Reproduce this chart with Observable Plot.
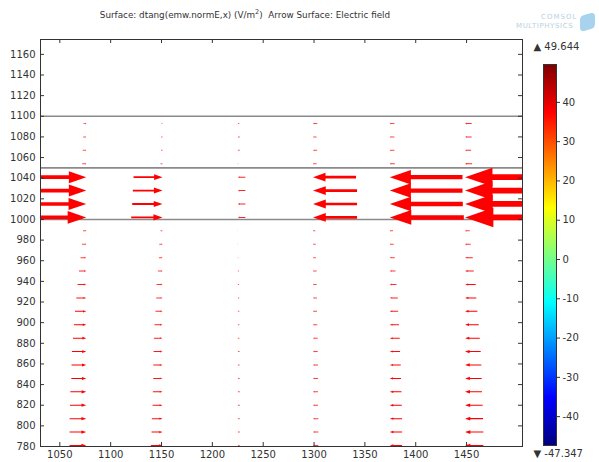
<!DOCTYPE html>
<html><head><meta charset="utf-8">
<script src="https://cdn.jsdelivr.net/npm/d3@7"></script>
<script src="https://cdn.jsdelivr.net/npm/@observablehq/plot@0.6"></script>
<style>
body{margin:0;background:#fff;}
#wrap{position:relative;width:599px;height:462px;font-family:"DejaVu Sans",sans-serif;color:#333;overflow:hidden;background:#fff}
#wrap svg{position:absolute;top:0}
#title{position:absolute;left:0;width:490px;top:10px;text-align:center;font-size:8.8px;white-space:nowrap}
#title sup{font-size:6.5px;vertical-align:4px;line-height:0}
#logo1{position:absolute;left:541px;top:13px;font-size:7px;letter-spacing:1px;color:#b9d0de}
#logo2{position:absolute;left:516px;top:22px;font-size:7px;letter-spacing:0.6px;color:#b9d0de}
#icon{position:absolute;left:580px;top:14px;width:15px;height:16px;background:#a7d3ef;border-radius:4px;transform:skewY(-15deg)}
</style></head><body>
<div id="wrap">
<div id="title">Surface: dtang(emw.normE,x) (V/m<sup>2</sup>)&nbsp; Arrow Surface: Electric field</div>
<div id="logo1">COMSOL</div>
<div id="logo2">MULTIPHYSICS</div>
<div id="icon"></div>
</div>
<script>
// ---- data ----
const columns = [1076, 1151, 1225, 1299, 1374.5, 1448.5];
const rows = [781, 794, 807, 820, 833, 846, 859, 872, 885, 898, 911, 924, 937, 950, 963, 976, 989,
              1002, 1015, 1028, 1041, 1054, 1067, 1080, 1093];
// horizontal electric-field arrow lengths (x units, signed) per column, rows bottom→top
const u1075 = [16.4,16.4,16.4,16.0,15.7,14.7,14.5,14.1,13.1,12.1,11.1,9.8,8.6,7.2,5.6,4.2,3.2, 63,60,59,59, 4,3.5,3,2.7];
const u1150 = [11.5,10.8,10.5,9.8,9.5,9.1,9.1,8.8,8.5,7.9,6.9,6.2,5.9,4.6,3.6,3.2,2.0, 30.8,29.8,29.2,28.5, 2,1.5,1.5,1];
const u1225 = [-2,-2,-2,-2,-2,-2,-1.8,-1.8,-1.6,-1.6,-1.5,-1.5,-1.3,-1.2,-0.5,-0.3,-0.2, -7.5,-7.5,-7.5,-7.5, -0.5,-2,-2,-1.5];
const u1300 = [-5.2,-5.2,-5.2,-4.9,-4.9,-4.9,-4.9,-4.6,-4.6,-4.2,-3.9,-3.9,-3.6,-3.6,-2.9,-2.7,-2.3, -43.3,-43.3,-43.3,-42.3, -3.5,-4,-3.5,-4.2];
const u1375 = [-12.1,-12.1,-12.1,-11.8,-11.5,-11.1,-10.8,-10.1,-9.8,-9.1,-8.2,-7.9,-6.6,-5.6,-4.9,-3.9,-3.2, -72.8,-71.8,-71.5,-71.5, -5,-4.5,-4.5,-4.5];
const u1450 = [-18,-18,-17.7,-17.4,-16.7,-16.4,-16,-15.4,-14.5,-13.5,-12.1,-11.1,-10.5,-8.6,-7.6,-5.6,-4.6, -96,-94,-93,-93, -7,-6,-6.5,-6.5];
const bandLines = [1000, 1050, 1100];
const xTicks = [1050, 1100, 1150, 1200, 1250, 1300, 1350, 1400, 1450];
const yTicks = [780, 800, 820, 840, 860, 880, 900, 920, 940, 960, 980, 1000, 1020, 1040, 1060, 1080, 1100, 1120, 1140, 1160];
const colorMin = -47.347, colorMax = 49.644;
const colorTicks = [-40, -30, -20, -10, 0, 10, 20, 30, 40];

// ---- build table ----
const series = [u1075, u1150, u1225, u1300, u1375, u1450];
const arrows = [];
columns.forEach((cx, ci) => rows.forEach((ry, ri) => arrows.push({x: cx, y: ry, u: series[ci][ri]})));

// ---- layout ----
const W = 599, H = 462, mL = 40, mR = 77, mT = 39, mB = 16;
const xDom = [1031, 1505], yDom = [780, 1174.4];
const innerW = W - mL - mR, innerH = H - mT - mB;
const kx = innerW / (xDom[1] - xDom[0]);

const arrowShape = {
  draw(ctx, l) {
    if (!(l > 0)) return;
    const h = 0.29 * l, sw = Math.max(0.5, 0.03 * l), hw = Math.max(0.1 * l, sw * 1.9);
    ctx.moveTo(-sw, 0);
    ctx.lineTo(-sw, h - l);
    ctx.lineTo(-hw, h - l);
    ctx.lineTo(0, -l);
    ctx.lineTo(hw, h - l);
    ctx.lineTo(sw, h - l);
    ctx.lineTo(sw, 0);
    ctx.closePath();
  }
};

const font = {fontFamily: '"DejaVu Sans", sans-serif', fontSize: "10px", color: "#333", background: "transparent"};

const main = Plot.plot({
  width: W, height: H, marginLeft: mL, marginRight: mR, marginTop: mT, marginBottom: mB,
  style: font,
  x: {domain: xDom},
  y: {domain: yDom},
  length: {type: "linear", domain: [0, 100], range: [0, 100 * kx]},
  marks: [
    Plot.ruleY(bandLines, {y: d => d, stroke: "#8a8a8a", strokeWidth: 1.6}),
    Plot.vector(arrows, {
      x: "x", y: "y", length: d => Math.abs(d.u), rotate: d => d.u >= 0 ? 90 : -90,
      anchor: "end", shape: arrowShape, fill: "#ff0000", stroke: "none",
      fillOpacity: d => Math.min(1, 0.55 + Math.abs(d.u) / 25), clip: true
    }),
    Plot.frame({stroke: "#333"}),
    Plot.tickX(xTicks, {x: d => d, insetTop: innerH - 4, stroke: "#333"}),
    Plot.tickX(xTicks, {x: d => d, insetBottom: innerH - 4, stroke: "#333"}),
    Plot.tickY(yTicks, {y: d => d, insetRight: innerW - 4, stroke: "#333"}),
    Plot.tickY(yTicks, {y: d => d, insetLeft: innerW - 4, stroke: "#333"}),
    Plot.axisX({ticks: xTicks, tickSize: 0, tickPadding: 4, label: null, tickFormat: d => String(d)}),
    Plot.axisY({ticks: yTicks, tickSize: 0, tickPadding: 5, label: null, tickFormat: d => String(d)})
  ]
});

const jet = d3.piecewise(d3.interpolateRgb, ["#00007f","#0000ff","#007fff","#00ffff","#7fff7f","#ffff00","#ff7f00","#ff0000","#7f0000"]);
const cbLeft = 523;
const cb = Plot.plot({
  width: W - cbLeft, height: H, marginLeft: 20, marginRight: 43, marginTop: 64, marginBottom: 17,
  style: font,
  x: {domain: [0, 1], axis: null},
  y: {domain: [colorMin, colorMax]},
  color: {type: "linear", domain: [colorMin, colorMax], interpolate: jet},
  marks: [
    Plot.raster({x1: 0, x2: 1, y1: colorMin, y2: colorMax, width: 2, height: 380, fill: (x, y) => y}),
    Plot.frame({stroke: "#333"}),
    Plot.axisY({anchor: "right", ticks: colorTicks, tickSize: 3, tickPadding: 3, label: null, tickFormat: d => String(d)}),
    Plot.text([`▲ ${colorMax}`], {frameAnchor: "top-left", dx: -10, dy: -22, textAnchor: "start"}),
    Plot.text([`▼ ${colorMin}`], {frameAnchor: "bottom-left", dx: -10, dy: 11, textAnchor: "start"})
  ]
});
cb.style.left = cbLeft + "px";
main.style.left = "0px";
const wrap = document.getElementById("wrap");
wrap.insertBefore(main, wrap.firstChild);
wrap.appendChild(cb);
</script>
</body></html>
